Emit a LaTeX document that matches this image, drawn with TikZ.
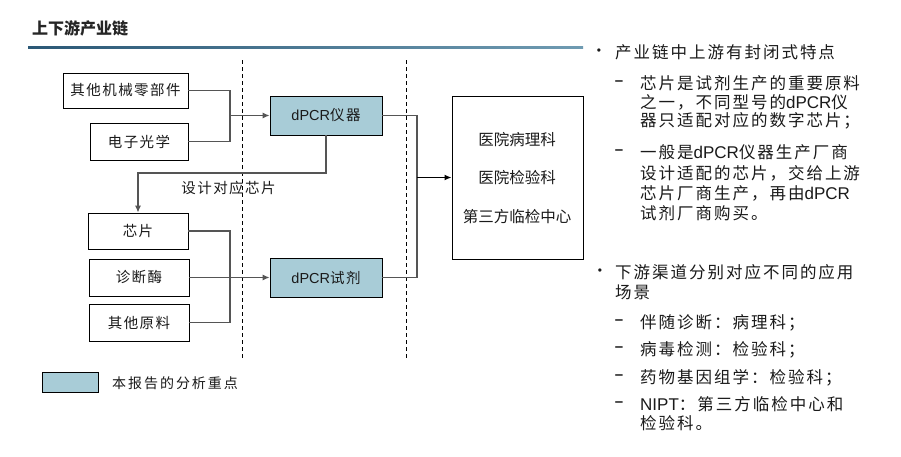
\documentclass[tikz,border=0pt]{standalone}
\usepackage{fontspec}
\setmainfont{Noto Sans CJK SC}
\newfontfamily\lat{Liberation Sans}
\newfontfamily\cjksp[LetterSpace=12]{Noto Sans CJK SC}
\newfontfamily\cjkmid[LetterSpace=14]{Noto Sans CJK SC}
\newfontfamily\cjkbx[LetterSpace=10]{Noto Sans CJK SC}
\usetikzlibrary{arrows.meta}
\definecolor{focus}{HTML}{A8CCD7}
\definecolor{conn}{HTML}{555555}
\definecolor{ink}{HTML}{1A1A1A}
\newcommand\rlat[1]{{\lat\fontsize{17}{20}\selectfont #1}}
\newcommand\blat[1]{{\lat\fontsize{14.5}{17}\selectfont #1}}
\begin{document}
\begin{tikzpicture}[x=1pt,y=-1pt,
  box/.style={draw=black, line width=0.9pt, fill=white, inner sep=0pt, text=ink,
    font=\fontsize{14.5}{17}\selectfont\cjkbx},
  focusbox/.style={box, fill=focus},
  conline/.style={draw=conn, line width=1.1pt},
  arr/.style={conline, -{Latex[length=7pt,width=6pt]}},
  divider/.style={draw=black, line width=0.8pt, dash pattern=on 4pt off 3pt},
  rtxt/.style={anchor=base west, inner sep=0pt, text=ink, font=\fontsize{16.5}{19}\selectfont\cjksp},
  bul/.style={inner sep=0pt, text=ink, font=\lat\fontsize{12}{14}\selectfont},
  dashmark/.style={inner sep=0pt, text=ink, font=\lat\bfseries\fontsize{15}{18}\selectfont},
  htxt/.style={inner sep=0pt, text=ink, font=\fontsize{15.5}{18}\selectfont},
]
\fill[white] (0,0) rectangle (901,456);
\useasboundingbox (0,0) rectangle (901,456);

% title
\node[anchor=base west, inner sep=0pt, text=black!85, font=\fontsize{16}{19}\selectfont\bfseries] (title) at (32,34.6) {上下游产业链};
\shade[left color={rgb,255:red,43;green,88;blue,118}, right color={rgb,255:red,111;green,155;blue,178}] (28,46) rectangle (583,48.6);

% dividers
\coordinate (v1t) at (242,60); \coordinate (v1b) at (242,358);
\coordinate (v2t) at (406,60); \coordinate (v2b) at (406,358);
\draw[divider] (v1t) -- (v1b);
\draw[divider] (v2t) -- (v2b);

% boxes
\node[box, minimum width=125pt, minimum height=35pt] (A) at (125.5,90.5) {其他机械零部件};
\node[box, minimum width=98pt, minimum height=37pt] (B) at (139,141.5) {电子光学};
\node[focusbox, minimum width=112pt, minimum height=39pt] (P) at (326,115.5) {\blat{dPCR}仪器};
\node[box, minimum width=100pt, minimum height=36pt] (C) at (138,231) {芯片};
\node[box, minimum width=100pt, minimum height=37pt] (D) at (139,277.5) {诊断酶};
\node[box, minimum width=100pt, minimum height=37pt] (E) at (139,322.5) {其他原料};
\node[focusbox, minimum width=112pt, minimum height=39pt] (R) at (326,277.5) {\blat{dPCR}试剂};
\node[box, minimum width=131pt, minimum height=163pt] (H) at (517.5,177.5) {};
\node[htxt] (h1) at (517,140) {医院病理科};
\node[htxt] (h2) at (517,178) {医院检验科};
\node[htxt] (h3) at (517,217) {第三方临检中心};

% connectors
\coordinate (j1) at (230,115.5);
\draw[conline] (A.east) -| (j1) |- (B.east);
\draw[arr] (j1) -- (P.west);
\coordinate (k) at (230,173);
\draw[arr] (P.south) |- (k) -| (C.north);
\node[inner sep=0pt, text=ink, font=\fontsize{14.5}{17}\selectfont\cjkbx] (lab) at (228.5,188) {设计对应芯片};
\coordinate (j2) at (230,277.5);
\draw[conline] (C.east) -| (j2) |- (E.east);
\draw[conline] (D.east) -- (j2);
\draw[arr] (j2) -- (R.west);
\coordinate (j3) at (417,177.5);
\draw[conline] (P.east) -| (j3) |- (R.east);
\draw[draw=black, line width=1.4pt, -{Latex[length=7pt,width=6pt]}] (j3) -- (H.west);

% legend
\node[focusbox, minimum width=56pt, minimum height=20pt] (L) at (70,382) {};
\node[anchor=base west, inner sep=0pt, text=ink, font=\fontsize{14}{17}\selectfont\cjkmid] (Lt) at (112,388.3) {本报告的分析重点};

% right column
\node[bul] (b1) at (599,52) {•};
\node[rtxt] (t1) at (615,58.2) {产业链中上游有封闭式特点};
\node[dashmark] (d1) at (619,83) {–};
\node[rtxt] (t2) at (640,89.2) {芯片是试剂生产的重要原料};
\node[rtxt] (t3) at (640,108.2) {之一，不同型号的\rlat{dPCR}仪};
\node[rtxt] (t4) at (640,126.2) {器只适配对应的数字芯片；};
\node[dashmark] (d2) at (619,152) {–};
\node[rtxt] (t5) at (640,158.2) {一般是\rlat{dPCR}仪器生产厂商};
\node[rtxt] (t6) at (640,179.2) {设计适配的芯片，交给上游};
\node[rtxt] (t7) at (640,199.2) {芯片厂商生产，再由\rlat{dPCR}};
\node[rtxt] (t8) at (640,219.2) {试剂厂商购买。};
\node[bul] (b2) at (600,272) {•};
\node[rtxt] (t9) at (615,278.2) {下游渠道分别对应不同的应用};
\node[rtxt] (t10) at (615,298.2) {场景};
\node[dashmark] (d3) at (619,322) {–};
\node[rtxt] (t11) at (640,328.2) {伴随诊断：病理科；};
\node[dashmark] (d4) at (619,349) {–};
\node[rtxt] (t12) at (640,355.2) {病毒检测：检验科；};
\node[dashmark] (d5) at (619,377) {–};
\node[rtxt] (t13) at (640,383.2) {药物基因组学：检验科；};
\node[dashmark] (d6) at (619,404) {–};
\node[rtxt] (t14) at (640,410.2) {\rlat{NIPT}：第三方临检中心和};
\node[rtxt] (t15) at (640,429.2) {检验科。};
\end{tikzpicture}
\end{document}
